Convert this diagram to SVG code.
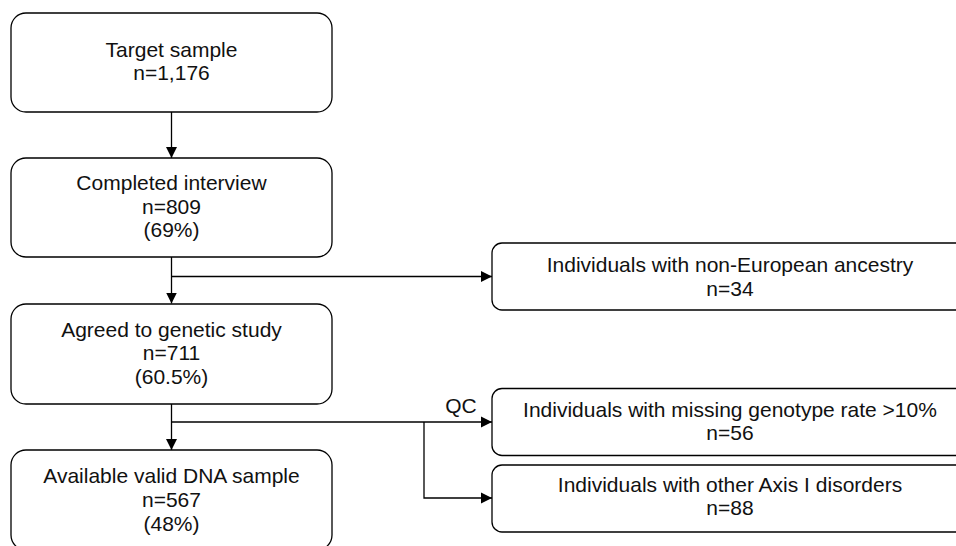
<svg xmlns="http://www.w3.org/2000/svg" width="956" height="546" viewBox="0 0 956 546">
<style>
.box{fill:#fff;stroke:#000;stroke-width:1.3}
.t{font-family:"Liberation Sans",Arial,sans-serif;font-size:21px;fill:#111;text-anchor:middle}
.c{fill:none;stroke:#000;stroke-width:1.3}
</style>
<defs>
<marker id="ah" markerUnits="userSpaceOnUse" markerWidth="12" markerHeight="12" viewBox="0 0 12 12" refX="11" refY="6" orient="auto">
<path d="M0,0.5 L11,6 L0,11.5 Z" fill="#000"/>
</marker>
</defs>
<rect width="956" height="546" fill="#fff"/>
<g id="connectors">
<line class="c" x1="171.5" y1="112" x2="171.5" y2="158" marker-end="url(#ah)"/>
<line class="c" x1="171.5" y1="257" x2="171.5" y2="303.5" marker-end="url(#ah)"/>
<line class="c" x1="171.5" y1="276.5" x2="492" y2="276.5" marker-end="url(#ah)"/>
<line class="c" x1="171.5" y1="404" x2="171.5" y2="450" marker-end="url(#ah)"/>
<line class="c" x1="171.5" y1="422" x2="492" y2="422" marker-end="url(#ah)"/>
<polyline class="c" points="424,422 424,498 492,498" marker-end="url(#ah)"/>
<text class="t" x="461" y="413">QC</text>
</g>
<g id="n1">
<rect class="box" x="11" y="13" width="321" height="99" rx="15"/>
<text class="t" x="171.5" y="56.7">Target sample</text>
<text class="t" x="171.5" y="80.2">n=1,176</text>
</g>
<g id="n2">
<rect class="box" x="11" y="158" width="321" height="99" rx="15"/>
<text class="t" x="171.5" y="190">Completed interview</text>
<text class="t" x="171.5" y="213.5">n=809</text>
<text class="t" x="171.5" y="237">(69%)</text>
</g>
<g id="n3">
<rect class="box" x="11" y="304" width="321" height="100" rx="15"/>
<text class="t" x="171.5" y="336.5">Agreed to genetic study</text>
<text class="t" x="171.5" y="360">n=711</text>
<text class="t" x="171.5" y="383.5">(60.5%)</text>
</g>
<g id="n4">
<rect class="box" x="11" y="450" width="321" height="100" rx="15"/>
<text class="t" x="171.5" y="482.5">Available valid DNA sample</text>
<text class="t" x="171.5" y="506.5">n=567</text>
<text class="t" x="171.5" y="530.5">(48%)</text>
</g>
<g id="e1">
<rect class="box" x="492" y="243" width="476" height="67" rx="10"/>
<text class="t" x="730" y="272.3">Individuals with non-European ancestry</text>
<text class="t" x="730" y="295.8">n=34</text>
</g>
<g id="e2">
<rect class="box" x="492" y="388.5" width="476" height="67" rx="10"/>
<text class="t" x="730" y="416.7">Individuals with missing genotype rate &gt;10%</text>
<text class="t" x="730" y="440.2">n=56</text>
</g>
<g id="e3">
<rect class="box" x="492" y="465" width="476" height="67" rx="10"/>
<text class="t" x="730" y="491.7">Individuals with other Axis I disorders</text>
<text class="t" x="730" y="515.2">n=88</text>
</g>
</svg>
